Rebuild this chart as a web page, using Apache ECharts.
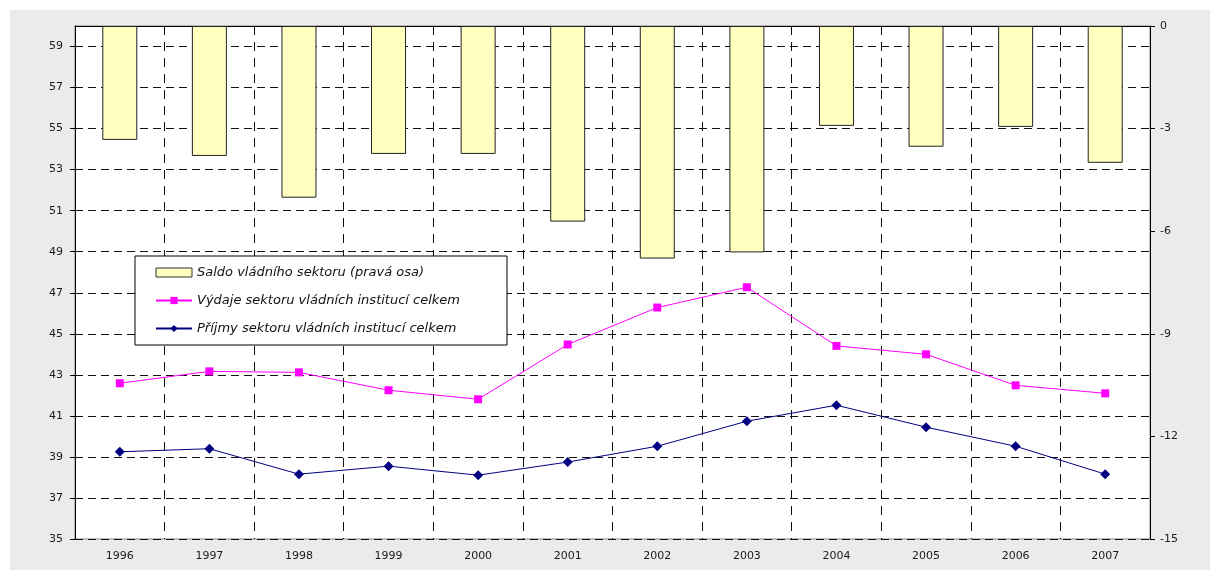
<!DOCTYPE html>
<html>
<head>
<meta charset="utf-8">
<script src="https://cdn.jsdelivr.net/npm/echarts@6/dist/echarts.min.js"></script>
<style>
  html, body { margin: 0; padding: 0; background: #ffffff; }
  #main { width: 1210px; height: 570px; }
</style>
</head>
<body>
<div id="main"></div>
<script>
// roky
var years = ["1996", "1997", "1998", "1999", "2000", "2001", "2002", "2003", "2004", "2005", "2006", "2007"];
// saldo (pravá osa)
var saldo = [-3.33, -3.80, -5.02, -3.74, -3.74, -5.72, -6.80, -6.62, -2.92, -3.53, -2.95, -4.00];
// výdaje
var vydaje = [42.59, 43.17, 43.12, 42.25, 41.81, 44.48, 46.28, 47.27, 44.41, 44.00, 42.49, 42.10];
// příjmy
var prijmy = [39.25, 39.40, 38.16, 38.55, 38.11, 38.75, 39.52, 40.74, 41.52, 40.45, 39.52, 38.16];

var labelFont = { color: "#1a1a1a", fontSize: 11, fontFamily: "DejaVu Sans" };

var chart = echarts.init(document.getElementById("main"));
var option = {
  animation: false,
  graphic: [
    {
      type: "rect",
      z: -10,
      shape: { x: 10, y: 10, width: 1200, height: 560 },
      style: { fill: "#ebebeb" }
    }
  ],
  grid: {
    left: 75,
    right: 60,
    top: 26,
    bottom: 31,
    show: true,
    backgroundColor: "#ffffff",
    borderColor: "#888888",
    borderWidth: 1
  },
  legend: {
    orient: "vertical",
    left: 135,
    top: 256,
    backgroundColor: "#ffffff",
    borderColor: "#000000",
    borderWidth: 1,
    padding: [10, 47, 10, 20],
    itemWidth: 36,
    itemHeight: 9,
    itemGap: 15,
    textStyle: {
      color: "#111",
      fontSize: 13,
      fontStyle: "italic",
      fontFamily: "DejaVu Sans"
    },
    data: [
      {
        name: "Saldo vládního sektoru (pravá osa)",
        icon: "rect",
        itemStyle: { color: "#ffffc0", borderColor: "#333333", borderWidth: 1 }
      },
      { name: "Výdaje sektoru vládních institucí celkem" },
      { name: "Příjmy sektoru vládních institucí celkem" }
    ]
  },
  xAxis: {
    type: "category",
    data: years,
    boundaryGap: true,
    axisLine: { lineStyle: { color: "#000", width: 1 } },
    axisTick: { show: true, length: 5, lineStyle: { color: "#000" } },
    axisLabel: Object.assign({ margin: 12 }, labelFont),
    splitLine: {
      show: true,
      lineStyle: { color: "#111", type: [9, 7], width: 1 }
    }
  },
  yAxis: [
    {
      type: "value",
      min: 35,
      max: 60,
      interval: 2,
      axisLine: { show: true, lineStyle: { color: "#000", width: 1 } },
      axisTick: { show: true, length: 5, lineStyle: { color: "#000" } },
      axisLabel: Object.assign({ margin: 12, showMaxLabel: false }, labelFont),
      splitLine: {
        show: true,
        lineStyle: { color: "#111", type: [8, 5], width: 1 }
      }
    },
    {
      type: "value",
      min: -15,
      max: 0,
      interval: 3,
      position: "right",
      axisLine: { show: true, lineStyle: { color: "#000", width: 1 } },
      axisTick: { show: true, length: 5, lineStyle: { color: "#000" } },
      axisLabel: Object.assign({ margin: 10 }, labelFont),
      splitLine: { show: false }
    }
  ],
  series: [
    {
      name: "Saldo vládního sektoru (pravá osa)",
      type: "bar",
      yAxisIndex: 1,
      barWidth: 35,
      data: saldo,
      itemStyle: { color: "#ffffc0", borderColor: "#222222", borderWidth: 1 }
    },
    {
      name: "Výdaje sektoru vládních institucí celkem",
      type: "line",
      data: vydaje,
      symbol: "rect",
      symbolSize: 8,
      lineStyle: { color: "#ff00ff", width: 1 },
      itemStyle: { color: "#ff00ff" }
    },
    {
      name: "Příjmy sektoru vládních institucí celkem",
      type: "line",
      data: prijmy,
      symbol: "diamond",
      symbolSize: 10,
      lineStyle: { color: "#000080", width: 1 },
      itemStyle: { color: "#000080" }
    }
  ]
};
chart.setOption(option);
</script>
</body>
</html>
